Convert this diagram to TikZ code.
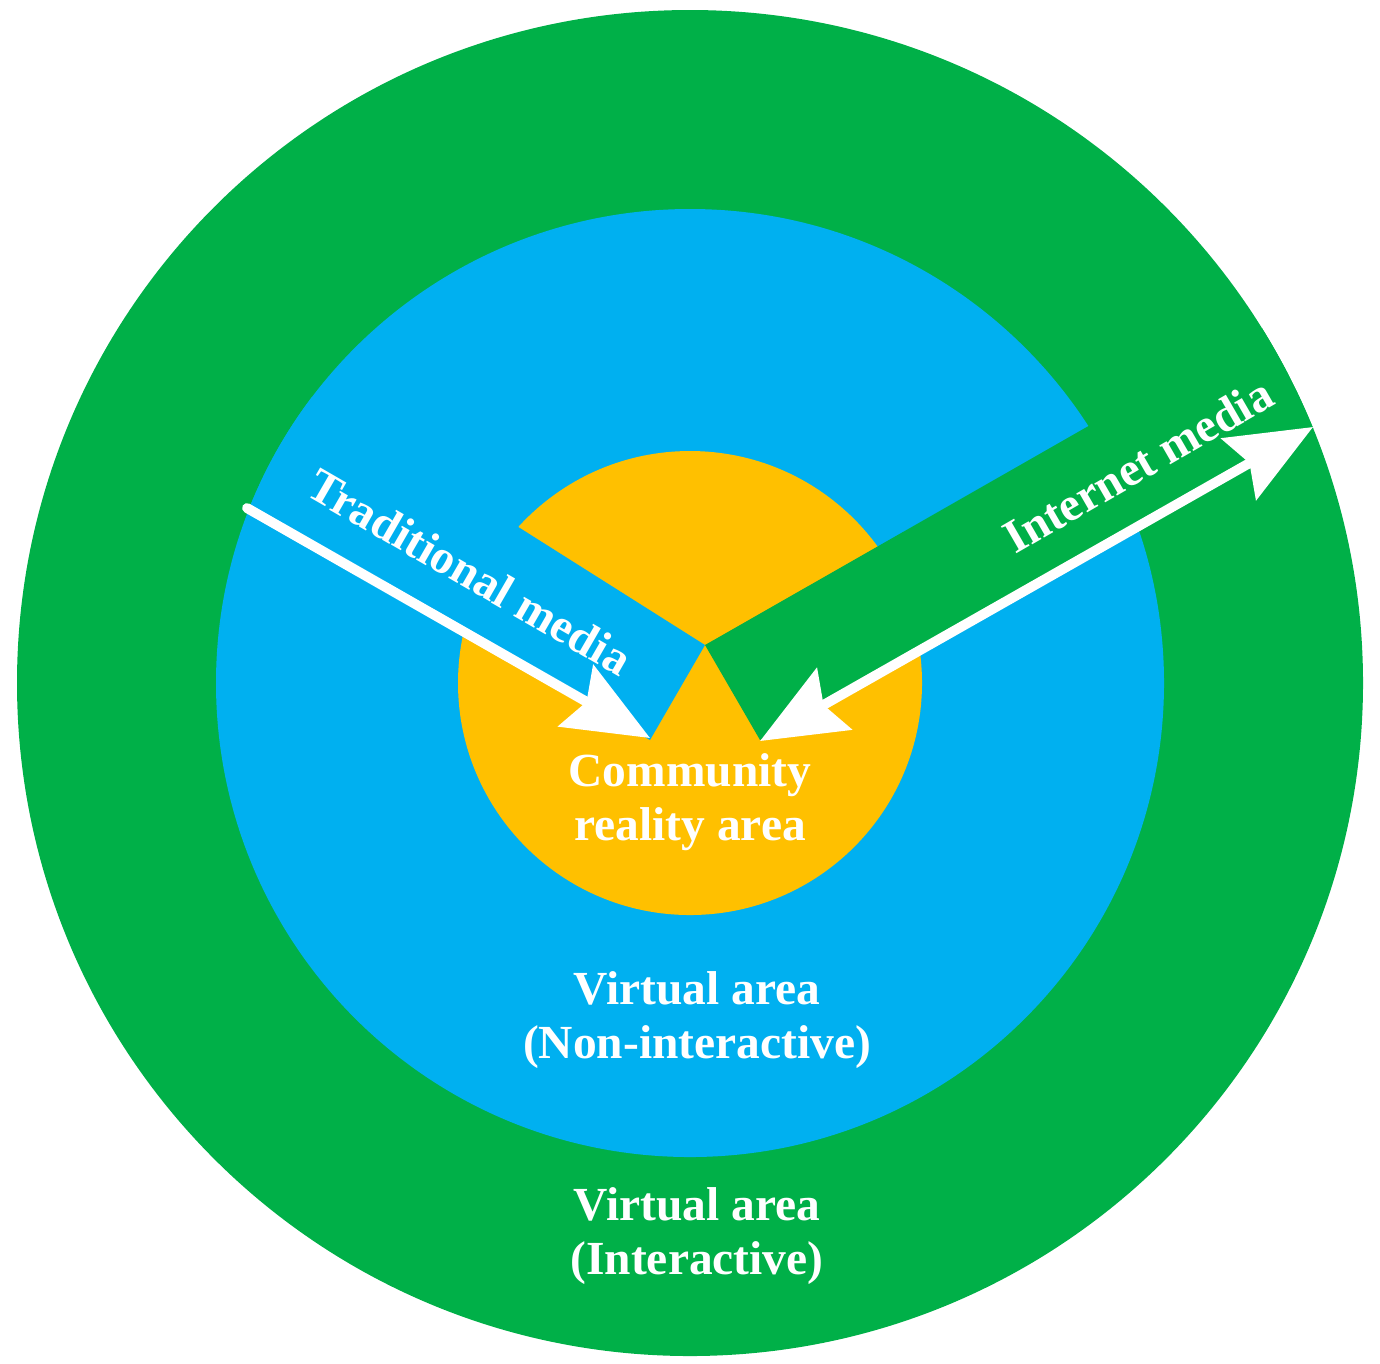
\documentclass[tikz,border=0pt]{standalone}
\usepackage{fontspec}
\setmainfont{Liberation Serif}
\usetikzlibrary{arrows.meta}
\definecolor{ringgreen}{RGB}{0,176,72}
\definecolor{ringblue}{RGB}{0,176,240}
\definecolor{ringyellow}{RGB}{255,192,0}
\tikzset{
  lbl/.style={text=white, font=\fontsize{13.5}{15.5}\selectfont\bfseries, align=center},
  tip/.tip={Stealth[length=0.85cm, width=0.7cm, inset=0.12cm]},
  media/.style={white, line width=2.8pt, line cap=round, -tip}
}
\begin{document}
\begin{tikzpicture}[x=0.01cm, y=-0.01cm]
  \useasboundingbox (0,0) rectangle (1380,1363);
  % rings
  \fill[ringgreen] (690,683) circle (673);
  \fill[ringblue] (690,683) circle (474);
  \fill[ringyellow] (690,683) circle (232);
  % wedges
  \begin{scope}
    \clip (690,683) circle (474);
    \fill[ringblue] (705,645) -- (300,389) -- (200,480) -- (650,740) -- cycle;
  \end{scope}
  \begin{scope}
    \clip (690,683) circle (673);
    \fill[ringgreen] (705,645) -- (1085,428) -- (1400,250) -- (1400,380) -- (760,740) -- cycle;
  \end{scope}
  % arrows
  \coordinate (tradstart) at (247,508);
  \coordinate (tradend) at (650,738);
  \coordinate (netin) at (760,741);
  \coordinate (netout) at (1313,427);
  \draw[media] (tradstart) -- (tradend);
  \draw[media, tip-tip, line cap=butt] (netin) -- (netout);
  % labels
  \node[lbl, rotate=-30] (trad) at (470,572) {Traditional media};
  \node[lbl, rotate=30] (net) at (1138,465) {Internet media};
  \node[lbl] (core) at (690,802) {Community\\reality area};
  \node[lbl] (mid) at (697,1020) {Virtual area\\(Non-interactive)};
  \node[lbl] (outer) at (697,1236) {Virtual area\\(Interactive)};
\end{tikzpicture}
\end{document}
